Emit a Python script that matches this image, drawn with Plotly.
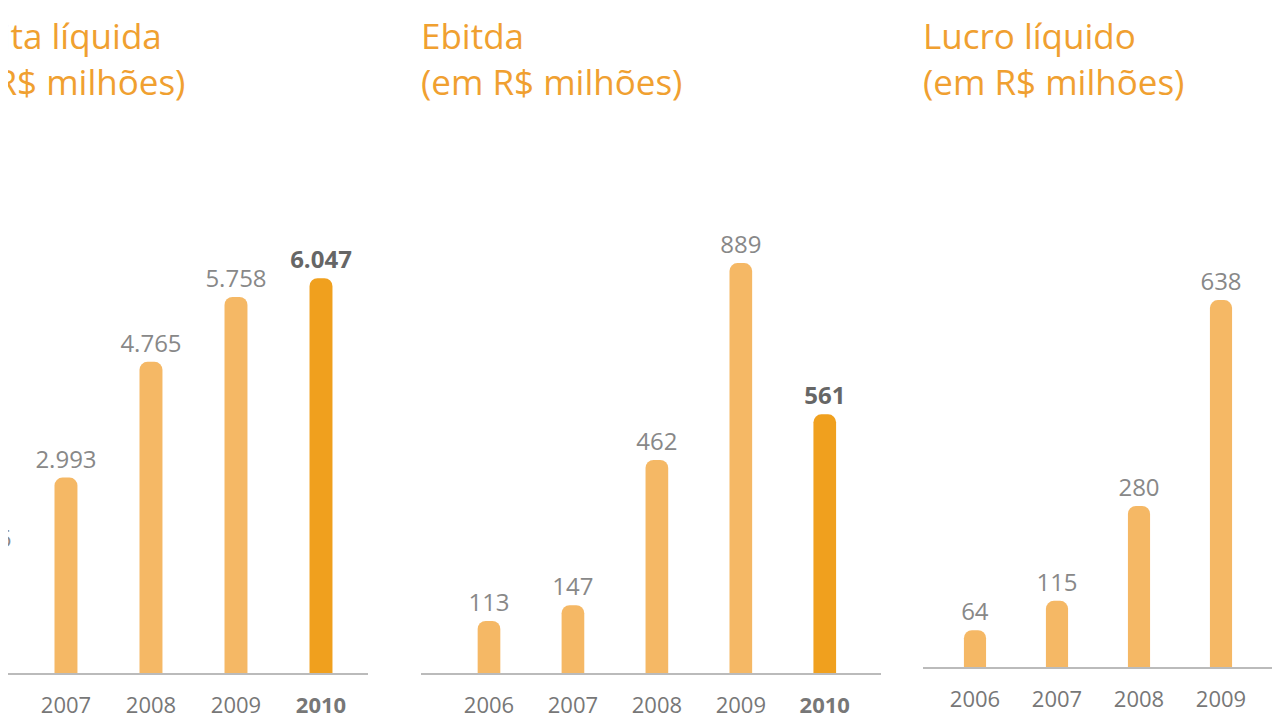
import plotly.graph_objects as go

years = ["2006", "2007", "2008", "2009", "2010"]
receita = [1776, 2993, 4765, 5758, 6047]
receita_lbl = ["1.776", "2.993", "4.765", "5.758", "6.047"]
ebitda = [113, 147, 462, 889, 561]
ebitda_lbl = ["113", "147", "462", "889", "561"]
lucro = [64, 115, 280, 638, 294]
lucro_lbl = ["64", "115", "280", "638", "294"]

LIGHT = "#F5B865"
DARK = "#F0A01E"
W, H = 1280, 720
FONT = "Open Sans"

panels = [
    (receita, receita_lbl, (0, 360), (0.318, 4.553), 665, 7887),
    (ebitda, ebitda_lbl, (413, 873), (-0.81, 4.67), 665, 1117),
    (lucro, lucro_lbl, (915, 1280), (-0.634, 3.817), 659, 885),
]

fig = go.Figure()
xs = list(range(len(years)))
for k, (vals, lbls, (x0, x1), xr, base, ytop) in enumerate(panels):
    n = "" if k == 0 else str(k + 1)
    colors = [LIGHT] * 4 + [DARK]
    texts = [f"<b>{l}</b>" if i == 4 else l for i, l in enumerate(lbls)]
    tcol = ["#888"] * 4 + ["#666"]
    fig.add_trace(go.Bar(
        x=xs, y=vals, xaxis="x" + n, yaxis="y" + n, marker_color=colors,
        width=0.27, text=texts, textposition="outside", constraintext="none",
        cliponaxis=True,
        textfont=dict(size=24, color=tcol, family=FONT),
        marker_line_width=0, showlegend=False, hoverinfo="skip"))
    fig.layout["xaxis" + n] = dict(
        domain=[x0 / W, x1 / W], range=list(xr), anchor="y" + n,
        tickvals=xs, ticktext=years[:4] + ["<b>2010</b>"],
        tickfont=dict(size=22, color="#777", family=FONT),
        showline=True, linecolor="#bbb", linewidth=1.5, showgrid=False,
        zeroline=False, ticks="outside", ticklen=12, tickcolor="rgba(0,0,0,0)",
        automargin=False)
    fig.layout["yaxis" + n] = dict(
        domain=[(H - base) / H, (H - 150) / H], range=[0, ytop],
        anchor="x" + n, visible=False, automargin=False)

titles = [("Receita líquida<br>(em R$ milhões)", -86),
          ("Ebitda<br>(em R$ milhões)", 411),
          ("Lucro líquido<br>(em R$ milhões)", 913)]
for t, x in titles:
    fig.add_annotation(text=t, xref="paper", yref="paper", x=x / W, y=1 - 2 / H,
                       xanchor="left", yanchor="top", align="left", showarrow=False,
                       font=dict(size=35, color="#F0A030", family=FONT))

fig.update_layout(width=W, height=H,
                  margin=dict(l=0, r=0, t=0, b=0, pad=0, autoexpand=False),
                  plot_bgcolor="white", paper_bgcolor="white",
                  barcornerradius=8)
fig.write_html("out.html")
